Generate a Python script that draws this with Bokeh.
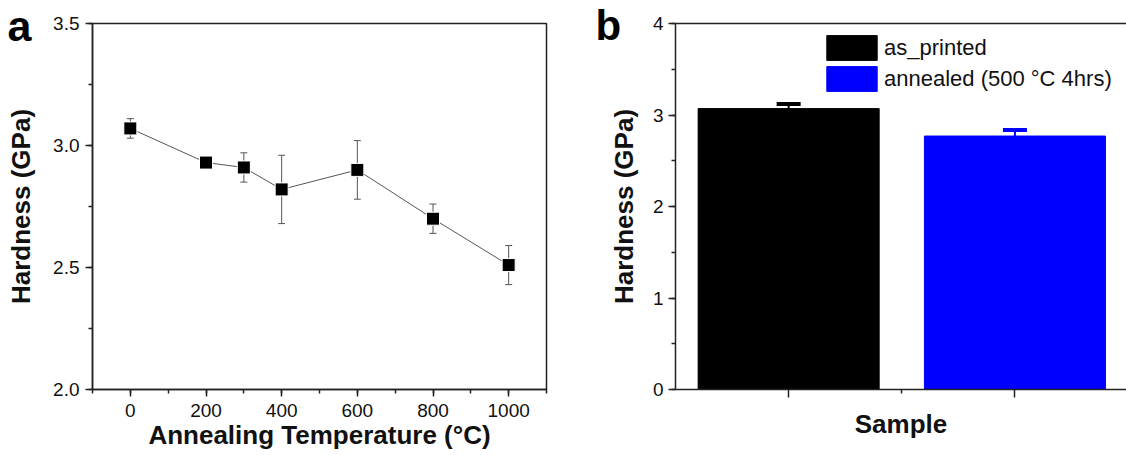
from bokeh.plotting import figure
from bokeh.layouts import row
from bokeh.models import (ColumnDataSource, Whisker, TeeHead, SingleIntervalTicker, FixedTicker,
                          NumeralTickFormatter, Range1d, Label, LinearAxis)
from bokeh.embed import file_html
from bokeh.resources import INLINE

# ---- data (panel a) ----
temps = [0, 200, 300, 400, 600, 800, 1000]
hardness_a = [3.07, 2.93, 2.91, 2.82, 2.90, 2.70, 2.51]
err_a = [0.04, 0.02, 0.06, 0.14, 0.12, 0.06, 0.08]

# ---- data (panel b) ----
samples = ["as_printed", "annealed (500 °C 4hrs)"]
hardness_b = [3.07, 2.77]
err_b = [0.05, 0.065]
colors_b = ["#000000", "#0000ff"]

FONT = "Liberation Sans"
AX = "#222222"


def style_axis(ax, label_size="19px"):
    ax.axis_line_color = AX
    ax.axis_line_width = 1.5
    ax.major_tick_line_color = AX
    ax.major_tick_line_width = 1.5
    ax.minor_tick_line_color = AX
    ax.minor_tick_line_width = 1.5
    ax.major_tick_in = 0
    ax.major_tick_out = 7
    ax.minor_tick_in = 0
    ax.minor_tick_out = 4
    ax.major_label_text_font = FONT
    ax.major_label_text_font_size = label_size
    ax.major_label_text_color = "#111111"
    ax.axis_label_text_font = FONT
    ax.axis_label_text_font_size = "26px"
    ax.axis_label_text_font_style = "bold"
    ax.axis_label_text_color = "#111111"


# ================= panel a =================
pa = figure(width=560, height=455, x_range=Range1d(-100, 1100), y_range=Range1d(2.0, 3.5),
            output_backend="svg", toolbar_location=None,
            min_border_left=92, min_border_right=14, min_border_top=23, min_border_bottom=66)
pa.grid.visible = False
pa.outline_line_color = AX
pa.outline_line_width = 1.5

src_a = ColumnDataSource(dict(
    x=temps, y=hardness_a,
    lo=[h - e for h, e in zip(hardness_a, err_a)],
    hi=[h + e for h, e in zip(hardness_a, err_a)],
))
pa.line("x", "y", source=src_a, line_color="#555555", line_width=1)
wa = Whisker(base="x", lower="lo", upper="hi", source=src_a, dimension="height",
             line_color="#555555", line_width=1,
             upper_head=TeeHead(size=7, line_color="#555555", line_width=1),
             lower_head=TeeHead(size=7, line_color="#555555", line_width=1))
pa.add_layout(wa)
pa.scatter("x", "y", source=src_a, marker="square", size=13,
           fill_color="black", line_color="white", line_width=1)

xa = pa.xaxis[0]
ya = pa.yaxis[0]
xa.ticker = SingleIntervalTicker(interval=200, num_minor_ticks=2)
ya.ticker = SingleIntervalTicker(interval=0.5, num_minor_ticks=2)
ya.formatter = NumeralTickFormatter(format="0.0")
style_axis(xa)
style_axis(ya)
xa.axis_label = "Annealing Temperature (°C)"
xa.major_label_standoff = 7
ya.major_label_standoff = 6
xa.axis_label_standoff = 0

# outer left axis: carries the panel letter (at the top of the frame) and the y title
ya2 = LinearAxis(ticker=FixedTicker(ticks=[3.5]), major_label_overrides={3.5: "a"},
                 axis_line_color=None, major_tick_line_color=None, minor_tick_line_color=None,
                 major_tick_out=0, minor_tick_out=0, major_label_standoff=19,
                 major_label_text_font=FONT, major_label_text_font_size="43px",
                 major_label_text_font_style="bold", major_label_text_color="black",
                 axis_label="Hardness (GPa)", axis_label_standoff=-31,
                 axis_label_text_font=FONT, axis_label_text_font_size="26px",
                 axis_label_text_font_style="bold", axis_label_text_color="#111111")
pa.add_layout(ya2, "left")

# ================= panel b =================
x_b = [i + 1 for i in range(len(samples))]
pb = figure(width=566, height=455, x_range=Range1d(0.5, 2.493), y_range=Range1d(0, 4),
            output_backend="svg", toolbar_location=None,
            min_border_left=115, min_border_right=0, min_border_top=23, min_border_bottom=66)
pb.grid.visible = False
pb.outline_line_color = None

for xi, name, h, e, c in zip(x_b, samples, hardness_b, err_b, colors_b):
    s = ColumnDataSource(dict(x=[xi], top=[h], hi=[h + e]))
    pb.vbar(x="x", top="top", bottom=0, width=0.8, source=s,
            fill_color=c, line_color=c, legend_label=name)
    w = Whisker(base="x", lower="top", upper="hi", source=s, dimension="height",
                line_color=c, line_width=2,
                upper_head=TeeHead(size=24, line_color=c, line_width=4),
                lower_head=None, level="overlay")
    pb.add_layout(w)

pb.yaxis.ticker = SingleIntervalTicker(interval=1, num_minor_ticks=2)
pb.xaxis.ticker = FixedTicker(ticks=x_b, minor_ticks=[1.5])
pb.xaxis.major_label_overrides = {1: "", 2: ""}
style_axis(pb.xaxis[0])
style_axis(pb.yaxis[0])
pb.xaxis.major_tick_out = 8
pb.xaxis.axis_label = "Sample"
pb.yaxis.axis_label = "Hardness (GPa)"
pb.yaxis.major_label_standoff = 5
pb.yaxis.axis_label_standoff = 11
pb.xaxis.axis_label_standoff = 11

top_axis = LinearAxis(ticker=FixedTicker(ticks=[]), axis_line_color=AX, axis_line_width=1.5,
                      major_tick_out=0, minor_tick_out=0, major_label_text_font_size="0px")
pb.add_layout(top_axis, "above")

lg = pb.legend[0]
lg.location = (145, 295)
lg.padding = 0
lg.margin = 0
lg.spacing = 0
lg.border_line_color = None
lg.background_fill_alpha = 0
lg.glyph_width = 63
lg.glyph_height = 31
lg.label_height = 31
lg.label_standoff = 1
lg.label_text_font = FONT
lg.label_text_font_size = "22px"
lg.label_text_color = "#111111"

pb.add_layout(Label(x=16, y=364, x_units="screen", y_units="screen", text="b",
                    text_font=FONT, text_font_size="42px", text_font_style="bold",
                    text_color="black", text_baseline="alphabetic"), "left")

layout = row(pa, pb)
open("out.html", "w").write(file_html(layout, INLINE))
